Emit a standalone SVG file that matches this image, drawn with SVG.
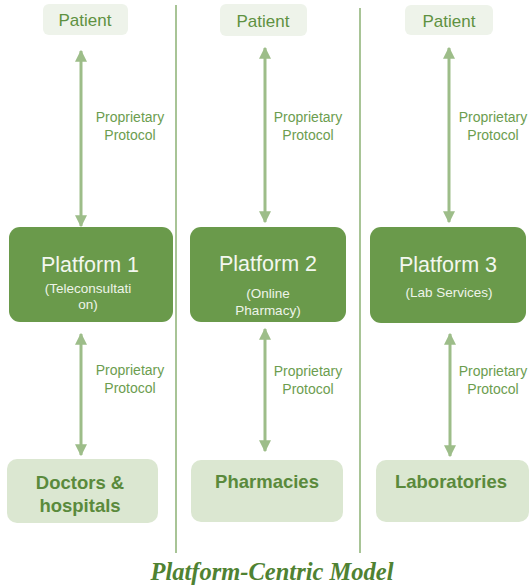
<svg xmlns="http://www.w3.org/2000/svg" width="531" height="586" viewBox="0 0 531 586">
<defs>
<style>
.bg{fill:#ffffff}
.div{stroke:#a8c496;stroke-width:2;fill:none}
.pat{fill:#eef3ea}
.pattxt{font-family:"Liberation Sans",Arial,sans-serif;font-size:17px;fill:#5e9141;text-anchor:middle}
.plat{fill:#6a9a4b}
.plattxt{font-family:"Liberation Sans",Arial,sans-serif;font-size:21.5px;fill:#f3f7ef;text-anchor:middle}
.platsub{font-family:"Liberation Sans",Arial,sans-serif;font-size:13.5px;fill:#eef4e9;text-anchor:middle}
.bot{fill:#dbe7d1}
.bottxt{font-family:"Liberation Sans",Arial,sans-serif;font-size:18.5px;font-weight:bold;fill:#5a8a3c;text-anchor:middle}
.lbl{font-family:"Liberation Sans",Arial,sans-serif;font-size:14px;fill:#6c9d4f;text-anchor:middle}
.conn{stroke:#9dbd89;stroke-width:3;fill:none;marker-start:url(#ah);marker-end:url(#ah)}
.title{font-family:"Liberation Serif","Times New Roman",serif;font-size:24.5px;font-weight:bold;font-style:italic;fill:#4f8232;text-anchor:middle}
</style>
<marker id="ah" viewBox="0 0 10 10" refX="9" refY="5" markerWidth="4" markerHeight="4" orient="auto-start-reverse" markerUnits="strokeWidth">
<path d="M0,0 L10,5 L0,10 Z" fill="#9dbd89"/>
</marker>
</defs>
<rect class="bg" x="0" y="0" width="531" height="586"/>
<g id="dividers">
<line class="div" x1="176" y1="5" x2="176" y2="553"/>
<line class="div" x1="360" y1="8" x2="360" y2="553"/>
</g>
<g id="connectors">
<line class="conn" x1="81" y1="51" x2="81" y2="226"/>
<line class="conn" x1="81" y1="334" x2="81" y2="455"/>
<line class="conn" x1="265" y1="48" x2="265" y2="222"/>
<line class="conn" x1="265" y1="329" x2="265" y2="451"/>
<line class="conn" x1="449" y1="48" x2="449" y2="222"/>
<line class="conn" x1="450" y1="334" x2="450" y2="456"/>
<text class="lbl" x="130" y="122">Proprietary</text>
<text class="lbl" x="130" y="140">Protocol</text>
<text class="lbl" x="130" y="375">Proprietary</text>
<text class="lbl" x="130" y="393">Protocol</text>
<text class="lbl" x="308" y="122">Proprietary</text>
<text class="lbl" x="308" y="140">Protocol</text>
<text class="lbl" x="308" y="376">Proprietary</text>
<text class="lbl" x="308" y="394">Protocol</text>
<text class="lbl" x="493" y="122">Proprietary</text>
<text class="lbl" x="493" y="140">Protocol</text>
<text class="lbl" x="493" y="376">Proprietary</text>
<text class="lbl" x="493" y="394">Protocol</text>
</g>
<g id="patient1"><rect class="pat" x="43" y="4" width="85" height="31" rx="6"/><text class="pattxt" x="85" y="26">Patient</text></g>
<g id="patient2"><rect class="pat" x="220" y="4" width="87" height="32" rx="6"/><text class="pattxt" x="263" y="27">Patient</text></g>
<g id="patient3"><rect class="pat" x="405" y="5" width="88" height="30" rx="6"/><text class="pattxt" x="449" y="27">Patient</text></g>
<g id="platform1"><rect class="plat" x="9" y="227" width="164" height="95" rx="11"/><text class="plattxt" x="90" y="272">Platform 1</text><text class="platsub" x="88" y="293">(Teleconsultati</text><text class="platsub" x="88" y="309">on)</text></g>
<g id="platform2"><rect class="plat" x="190" y="227" width="156" height="95" rx="11"/><text class="plattxt" x="268" y="271">Platform 2</text><text class="platsub" x="268" y="298">(Online</text><text class="platsub" x="268" y="315">Pharmacy)</text></g>
<g id="platform3"><rect class="plat" x="370" y="227" width="156" height="96" rx="11"/><text class="plattxt" x="448" y="272">Platform 3</text><text class="platsub" x="449" y="297">(Lab Services)</text></g>
<g id="doctors"><rect class="bot" x="7" y="459" width="151" height="64" rx="10"/><text class="bottxt" x="80" y="489">Doctors &amp;</text><text class="bottxt" x="80" y="512">hospitals</text></g>
<g id="pharmacies"><rect class="bot" x="191" y="460" width="152" height="62" rx="10"/><text class="bottxt" x="267" y="488">Pharmacies</text></g>
<g id="laboratories"><rect class="bot" x="376" y="460" width="153" height="62" rx="10"/><text class="bottxt" x="451" y="488">Laboratories</text></g>
<text class="title" x="272" y="580">Platform-Centric Model</text>
</svg>
